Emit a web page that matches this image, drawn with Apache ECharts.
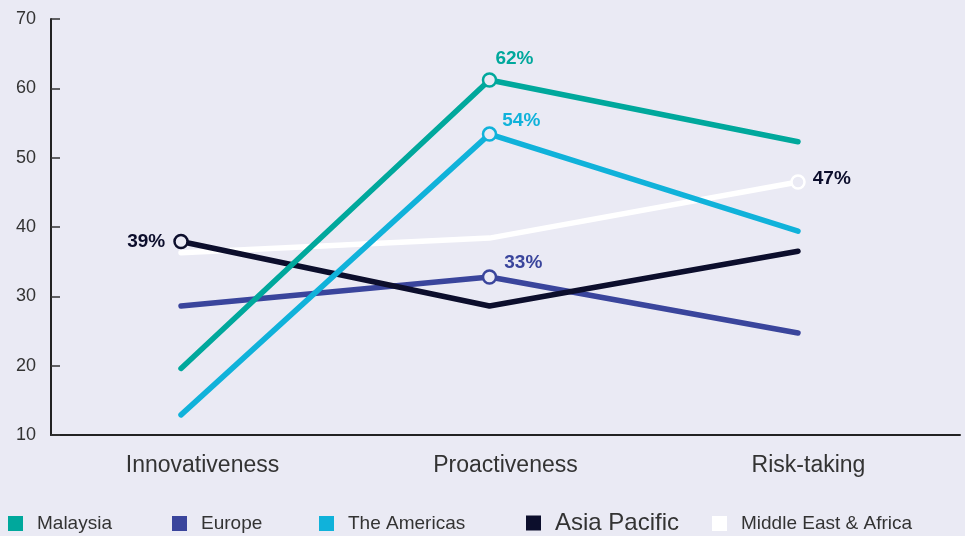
<!DOCTYPE html>
<html><head><meta charset="utf-8">
<script src="https://cdn.jsdelivr.net/npm/echarts@6/dist/echarts.min.js"></script>
<style>html,body{margin:0;padding:0;background:#eaeaf4}#c{width:965px;height:536px}</style>
</head><body><div id="c"></div>
<script>
const categories = ['Innovativeness', 'Proactiveness', 'Risk-taking'];
const yTicks = [10, 20, 30, 40, 50, 60, 70];
const malaysia = [19.6, 61.2, 52.3];
const europe = [28.6, 32.8, 24.7];
const americas = [12.9, 53.4, 39.4];
const asiaPacific = [37.9, 28.6, 36.5];
const middleEast = [36.3, 38.4, 46.5];
const highlightIndex = { 'Malaysia': 1, 'Europe': 1, 'The Americas': 1, 'Asia Pacific': 0, 'Middle East & Africa': 2 };
const highlightText = { 'Malaysia': '62%', 'Europe': '33%', 'The Americas': '54%', 'Asia Pacific': '39%', 'Middle East & Africa': '47%' };

const BG = '#eaeaf4';
const FONT = '"Liberation Sans Narrow", "Liberation Sans", Arial, sans-serif';
const colors = { 'Malaysia': '#00a89c', 'Europe': '#3a459c', 'The Americas': '#10b2da', 'Asia Pacific': '#0c0e2c', 'Middle East & Africa': '#ffffff' };
const labelColors = { 'Malaysia': '#00a89c', 'Europe': '#3a459c', 'The Americas': '#10b2da', 'Asia Pacific': '#0c0e2c', 'Middle East & Africa': '#0c0e2c' };
const labelPos = {
  'Malaysia': { position: 'top', offset: [25, 1] },
  'The Americas': { position: 'right', offset: [0, -13] },
  'Europe': { position: 'right', offset: [2, -14] },
  'Asia Pacific': { position: 'left', offset: [-3, 0] },
  'Middle East & Africa': { position: 'right', offset: [2, -3] }
};

function mkSeries(name, vals, z) {
  const c = colors[name];
  return {
    name, type: 'line', xAxisIndex: 1, yAxisIndex: 1, z,
    lineStyle: { color: c, width: 5.5, cap: 'round', join: 'round' },
    itemStyle: { color: c },
    symbol: 'none',
    emphasis: { disabled: true },
    data: vals.map((v, i) => {
      if (i !== highlightIndex[name]) return { value: v, symbol: 'none' };
      return {
        value: v, symbol: 'circle', symbolSize: 13,
        itemStyle: { color: BG, borderColor: c, borderWidth: 2.5 },
        label: Object.assign({
          show: true, formatter: highlightText[name],
          color: labelColors[name], fontSize: 19, fontWeight: 'bold',
          fontFamily: '"Liberation Sans", Arial, sans-serif'
        }, labelPos[name])
      };
    })
  };
}

const legendDefs = [
  { name: 'Malaysia', left: 8, size: 19, top: 514 },
  { name: 'Europe', left: 172, size: 19, top: 514 },
  { name: 'The Americas', left: 319, size: 19, top: 514 },
  { name: 'Asia Pacific', left: 526, size: 24, top: 511 },
  { name: 'Middle East & Africa', left: 712, size: 19, top: 514 }
];

const chart = echarts.init(document.getElementById('c'));
chart.setOption({
  backgroundColor: BG,
  animation: false,
  grid: [
    { left: 51, right: 5, top: 19, bottom: 101 },
    { left: 181, right: 167, top: 19, bottom: 101 }
  ],
  xAxis: [
    { type: 'category', gridIndex: 0, data: categories, boundaryGap: true,
      axisLine: { lineStyle: { color: '#222', width: 2 } },
      axisTick: { inside: true, length: 8, lineStyle: { color: '#222', width: 1.5 } },
      axisLabel: { color: '#333', fontSize: 23, margin: 19, fontFamily: FONT } },
    { type: 'category', gridIndex: 1, data: categories, boundaryGap: false, show: false }
  ],
  yAxis: [
    { type: 'value', gridIndex: 0, min: 10, max: 70, interval: 10,
      axisLine: { show: true, lineStyle: { color: '#222', width: 2 } },
      axisTick: { show: true, inside: true, length: 9, lineStyle: { color: '#333', width: 1.5 } },
      splitLine: { show: false },
      axisLabel: { color: '#333', fontSize: 18, margin: 15, fontFamily: FONT,
        formatter: v => yTicks.includes(v) ? String(v) : '' } },
    { type: 'value', gridIndex: 1, min: 10, max: 70, interval: 10, show: false, splitLine: { show: false } }
  ],
  legend: legendDefs.map(d => ({
    data: [{ name: d.name, itemStyle: { color: colors[d.name] }, icon: 'rect' }],
    left: d.left, top: d.top, itemWidth: 15, itemHeight: 15, padding: 0,
    selectedMode: false,
    textStyle: { color: '#333', fontSize: d.size, fontFamily: FONT, padding: [0, 0, 0, 9] }
  })),
  series: [
    mkSeries('Middle East & Africa', middleEast, 2),
    mkSeries('Europe', europe, 3),
    mkSeries('Asia Pacific', asiaPacific, 4),
    mkSeries('The Americas', americas, 5),
    mkSeries('Malaysia', malaysia, 6)
  ]
});
</script></body></html>
